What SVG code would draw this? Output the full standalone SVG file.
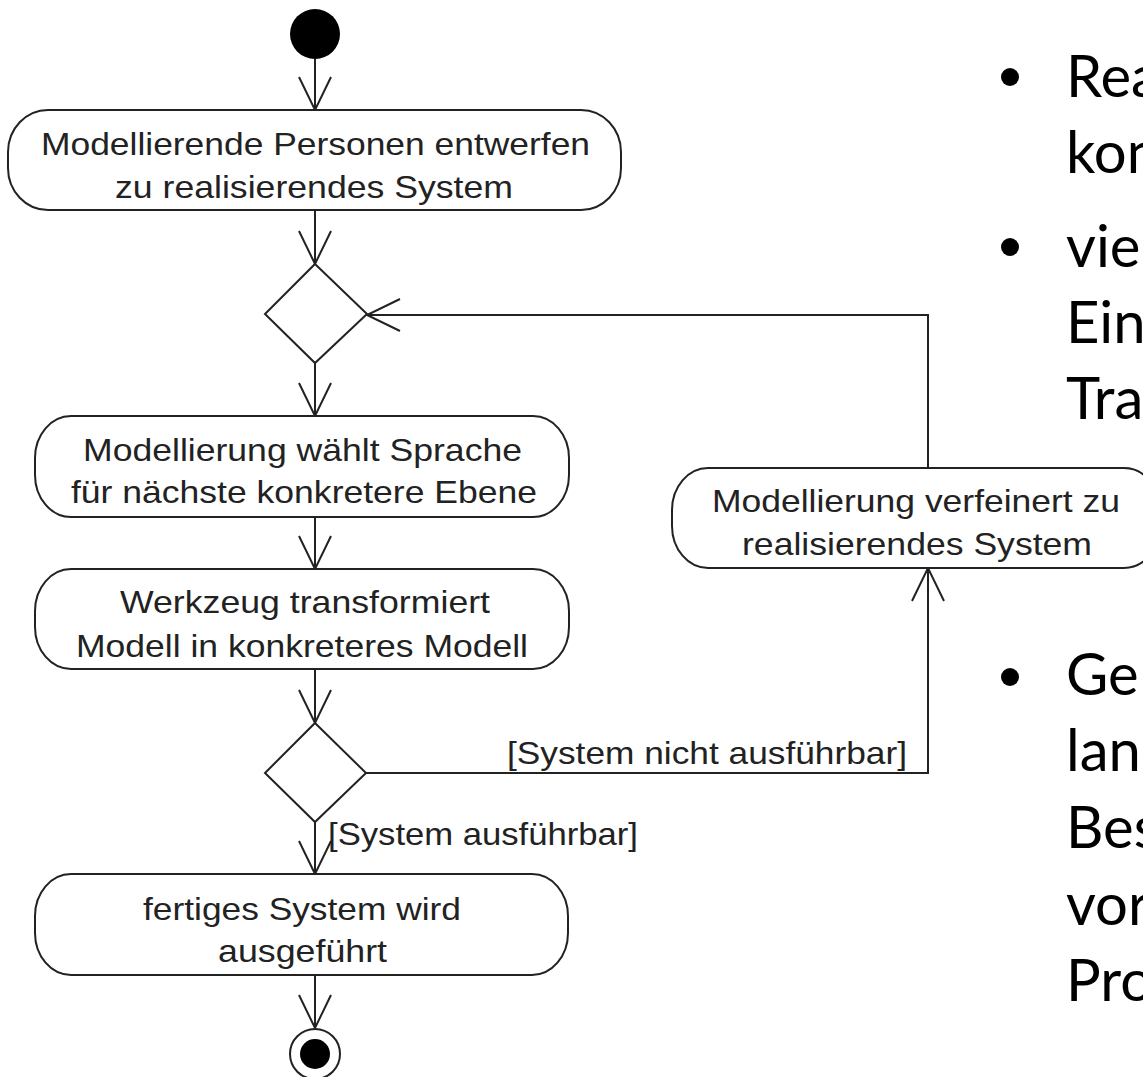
<svg xmlns="http://www.w3.org/2000/svg" width="1143" height="1077" viewBox="0 0 1143 1077">
<style>
.act{fill:#fff;stroke:#222;stroke-width:2}
.dec{fill:#fff;stroke:#222;stroke-width:2}
.lbl{font-family:"Liberation Sans",Arial,sans-serif;font-size:32px;fill:#222}
.edge{fill:none;stroke:#222;stroke-width:2}
.bul{font-family:Lato,"Open Sans",sans-serif;font-size:58px;fill:#000}
</style>
<defs>
<marker id="arr" markerUnits="userSpaceOnUse" markerWidth="40" markerHeight="40" viewBox="-36 -20 40 40" refX="0" refY="0" orient="auto">
<path d="M-33,-16 L0,0 L-33,16" fill="none" stroke="#222" stroke-width="2"/>
</marker>
</defs>
<rect width="1143" height="1077" fill="#fff"/>

<g id="connectors">
<line class="edge" x1="315" y1="59" x2="315" y2="110" marker-end="url(#arr)"/>
<line class="edge" x1="315" y1="210" x2="315" y2="264" marker-end="url(#arr)"/>
<line class="edge" x1="315" y1="363" x2="315" y2="416" marker-end="url(#arr)"/>
<line class="edge" x1="315" y1="517" x2="315" y2="569" marker-end="url(#arr)"/>
<line class="edge" x1="315" y1="669" x2="315" y2="723" marker-end="url(#arr)"/>
<line class="edge" x1="315" y1="822" x2="315" y2="874" marker-end="url(#arr)"/>
<line class="edge" x1="315" y1="975" x2="315" y2="1028" marker-end="url(#arr)"/>
<polyline class="edge" points="366,773 928,773 928,568" marker-end="url(#arr)"/>
<polyline class="edge" points="928,468 928,315 367,315" marker-end="url(#arr)"/>
<text class="lbl" x="507" y="764" textLength="400" lengthAdjust="spacingAndGlyphs">[System nicht ausführbar]</text>
<text class="lbl" x="328" y="845" textLength="310" lengthAdjust="spacingAndGlyphs">[System ausführbar]</text>
</g>

<g id="start">
<circle cx="315" cy="34" r="25" fill="#000"/>
</g>

<g id="a1">
<rect class="act" x="8" y="110" width="613" height="100" rx="40" ry="42"/>
<text class="lbl" x="41" y="155" textLength="549" lengthAdjust="spacingAndGlyphs">Modellierende Personen entwerfen</text>
<text class="lbl" x="115" y="198" textLength="398" lengthAdjust="spacingAndGlyphs">zu realisierendes System</text>
</g>

<g id="d1">
<polygon class="dec" points="315,264 367,314 315,363 265,314"/>
</g>

<g id="a2">
<rect class="act" x="35" y="416" width="534" height="101" rx="36" ry="42"/>
<text class="lbl" x="83" y="461" textLength="439" lengthAdjust="spacingAndGlyphs">Modellierung wählt Sprache</text>
<text class="lbl" x="71" y="503" textLength="466" lengthAdjust="spacingAndGlyphs">für nächste konkretere Ebene</text>
</g>

<g id="a3">
<rect class="act" x="35" y="569" width="534" height="100" rx="36" ry="42"/>
<text class="lbl" x="120" y="613" textLength="370" lengthAdjust="spacingAndGlyphs">Werkzeug transformiert</text>
<text class="lbl" x="76" y="657" textLength="452" lengthAdjust="spacingAndGlyphs">Modell in konkreteres Modell</text>
</g>

<g id="d2">
<polygon class="dec" points="315,723 366,773 315,822 265,773"/>
</g>

<g id="a4">
<rect class="act" x="35" y="874" width="533" height="101" rx="36" ry="42"/>
<text class="lbl" x="143" y="920" textLength="318" lengthAdjust="spacingAndGlyphs">fertiges System wird</text>
<text class="lbl" x="218" y="962" textLength="169" lengthAdjust="spacingAndGlyphs">ausgeführt</text>
</g>

<g id="a5">
<rect class="act" x="672" y="468" width="488" height="100" rx="36" ry="42"/>
<text class="lbl" x="712" y="512" textLength="408" lengthAdjust="spacingAndGlyphs">Modellierung verfeinert zu</text>
<text class="lbl" x="742" y="555" textLength="350" lengthAdjust="spacingAndGlyphs">realisierendes System</text>
</g>

<g id="end">
<circle cx="315" cy="1054" r="25" fill="#fff" stroke="#222" stroke-width="2"/>
<circle cx="315" cy="1054" r="15" fill="#000"/>
</g>

<g id="bullets">
<circle cx="1010" cy="77" r="9" fill="#000"/>
<circle cx="1010" cy="247" r="9" fill="#000"/>
<circle cx="1010" cy="677" r="9" fill="#000"/>
<text class="bul" x="1066" y="97">Rea</text>
<text class="bul" x="1066" y="173">kon</text>
<text class="bul" x="1066" y="267">vie</text>
<text class="bul" x="1066" y="343">Ein</text>
<text class="bul" x="1066" y="419">Tra</text>
<text class="bul" x="1066" y="695">Ge</text>
<text class="bul" x="1066" y="771">lan</text>
<text class="bul" x="1066" y="848">Bes</text>
<text class="bul" x="1066" y="925">vor</text>
<text class="bul" x="1066" y="1001">Pro</text>
</g>
</svg>
